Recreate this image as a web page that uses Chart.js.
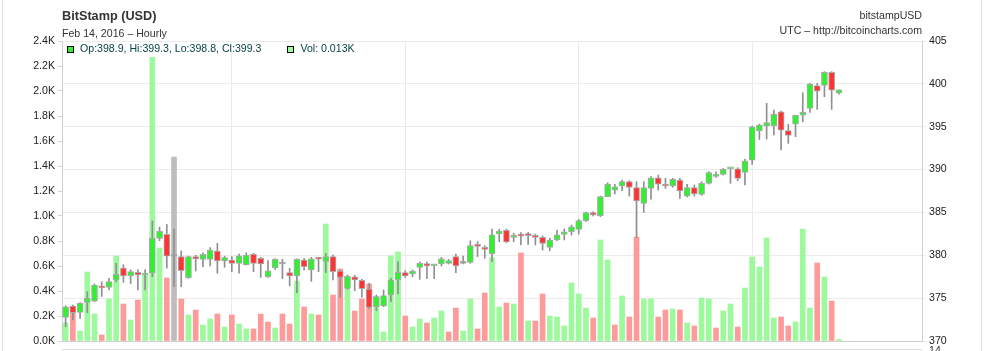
<!DOCTYPE html>
<html>
<head>
<meta charset="utf-8">
<script src="https://cdn.jsdelivr.net/npm/chart.js@4.4.1/dist/chart.umd.min.js"></script>
<style>
  body { margin: 0; background: #fff; }
  #wrap { position: relative; width: 984px; height: 351px; overflow: hidden; font-family: "Liberation Sans", Arial, sans-serif; }
  #wrap canvas { position: absolute; left: 0; top: 0; }
  .t { position: absolute; white-space: nowrap; color: #333; font-size: 10.6px; line-height: 10.6px; }
  .line { position: absolute; background: #ddd; }
  .sq { display: inline-block; width: 5px; height: 5px; border: 1px solid #000; vertical-align: -1px; margin-right: 6px; }
</style>
</head>
<body>
<div id="wrap">
  <canvas id="myChart" width="984" height="351"></canvas>
  <div class="line" style="left:2px;top:0;width:1px;height:351px"></div>
  <div class="line" style="left:981px;top:0;width:1px;height:351px"></div>
  <div class="line" style="left:62px;top:349px;width:860px;height:1px"></div>
  <div class="t" style="left:62px;top:10px;font-size:12.7px;line-height:12.7px;font-weight:bold">BitStamp (USD)</div>
  <div class="t" style="left:62px;top:28px">Feb 14, 2016 &ndash; Hourly</div>
  <div class="t" style="right:62px;top:10px">bitstampUSD</div>
  <div class="t" style="right:62px;top:25px">UTC &ndash; http://bitcoincharts.com</div>
  <div class="t" id="legend" style="left:67px;top:43px;color:#0a4444"></div>
  <div class="t" style="left:929px;top:345px">14</div>
</div>
<script>
// hourly candles, Feb 9 01:00 .. Feb 13 12:00 UTC
var opens = [372.76, 374.08, 373.34, 374.5, 374.66, 376.25, 376.26, 377.1, 378.5, 377.58,
  378.0, 377.7, 377.9, 381.98, 382.44, 379.9, 379.84, 377.39, 379.84, 379.53,
  379.53, 380.5, 379.33, 379.45, 379.06, 378.87, 380.11, 379.64, 377.5, 378.52,
  378.98, 377.97, 377.58, 379.45, 378.28, 379.6, 379.29, 379.84, 378.17, 376.14,
  377.5, 377.08, 376.07, 374.0, 374.08, 375.37, 377.12, 377.97, 377.82, 378.59,
  379.02, 378.78, 378.98, 379.06, 379.84, 379.06, 379.17, 381.24, 380.92, 380.15,
  382.48, 382.9, 382.09, 382.26, 382.52, 382.28, 382.09, 380.92, 381.78, 382.44,
  382.75, 383.02, 384.04, 384.97, 384.62, 386.84, 387.61, 388.08, 388.59, 387.89,
  386.06, 387.81, 389.05, 388.2, 388.08, 388.78, 386.91, 387.89, 387.11, 388.39,
  389.21, 389.44, 390.08, 390.1, 389.67, 391.11, 394.5, 395.08, 395.12, 396.75,
  394.54, 395.31, 396.36, 397.14, 399.79, 399.82, 401.34, 398.9];
var highs = [374.1, 374.2, 374.47, 375.75, 376.65, 376.9, 377.3, 379.06, 378.9, 378.3,
  378.3, 378.3, 384.0, 383.3, 383.6, 383.07, 380.5, 379.9, 380.0, 380.3,
  380.89, 381.4, 379.9, 379.84, 380.15, 380.3, 380.23, 379.76, 379.37, 379.6,
  379.53, 378.48, 379.6, 379.64, 379.76, 379.76, 380.23, 380.03, 378.28, 377.7,
  377.66, 377.2, 376.73, 375.37, 375.95, 377.31, 379.25, 378.2, 378.28, 379.22,
  379.22, 378.87, 379.76, 379.53, 380.15, 379.9, 381.7, 381.59, 381.12, 383.06,
  383.02, 383.06, 382.56, 382.64, 382.67, 382.48, 382.25, 381.98, 382.95, 383.06,
  383.53, 384.2, 385.05, 385.09, 386.91, 388.47, 388.27, 388.78, 388.7, 388.59,
  388.59, 389.17, 389.36, 388.97, 388.97, 388.97, 388.27, 388.2, 388.59, 389.75,
  389.75, 390.14, 390.14, 390.22, 391.19, 395.08, 395.31, 397.72, 396.95, 396.83,
  395.27, 396.36, 398.97, 400.06, 400.06, 401.42, 401.42, 399.3];
var lows = [371.67, 372.45, 372.64, 373.3, 374.58, 375.2, 375.95, 376.9, 376.84, 376.7,
  375.95, 375.95, 377.5, 381.7, 378.5, 376.34, 376.34, 377.3, 378.17, 378.67,
  378.75, 377.9, 378.6, 378.09, 377.9, 378.87, 378.09, 377.43, 377.43, 378.35,
  377.27, 376.42, 375.64, 378.28, 376.96, 378.09, 377.97, 377.12, 375.1, 376.03,
  375.87, 375.1, 373.81, 373.54, 374.0, 374.59, 375.48, 377.43, 377.5, 377.2,
  377.27, 377.27, 378.75, 378.98, 377.97, 378.98, 379.06, 379.84, 379.64, 379.25,
  381.58, 381.47, 381.58, 381.2, 381.27, 381.2, 380.61, 380.54, 381.7, 381.78,
  382.36, 382.48, 383.96, 384.58, 384.5, 386.84, 387.15, 387.53, 386.91, 382.09,
  385.01, 386.56, 387.61, 387.81, 387.93, 386.64, 386.8, 386.91, 386.99, 388.31,
  389.09, 389.36, 388.39, 388.7, 388.2, 390.6, 393.52, 393.56, 394.03, 392.28,
  393.06, 393.84, 395.58, 396.67, 397.02, 398.5, 397.02, 398.8];
var closes = [374.0, 373.3, 374.4, 374.98, 376.53, 376.2, 376.92, 377.77, 377.6, 378.09,
  377.7, 377.75, 381.98, 382.83, 379.9, 379.9, 378.2, 379.84, 379.57, 380.11,
  380.62, 379.33, 379.72, 379.06, 379.95, 380.03, 379.06, 378.98, 378.2, 379.53,
  378.98, 377.58, 379.53, 378.67, 379.6, 379.55, 379.84, 378.09, 377.43, 377.55,
  377.12, 376.1, 373.93, 375.17, 375.29, 377.12, 378.01, 377.58, 378.17, 379.06,
  378.75, 378.8, 379.6, 379.37, 378.75, 379.06, 381.12, 381.04, 380.69, 382.4,
  382.83, 381.55, 382.28, 382.24, 382.28, 382.09, 381.39, 381.78, 382.4, 382.75,
  383.33, 384.04, 384.97, 384.7, 386.84, 388.27, 388.0, 388.59, 387.92, 386.33,
  387.89, 389.05, 388.31, 388.08, 388.86, 387.5, 387.89, 387.15, 388.39, 389.64,
  389.36, 390.02, 390.1, 388.97, 391.03, 395.0, 395.2, 395.47, 396.44, 394.61,
  393.99, 396.32, 396.67, 399.94, 399.16, 401.34, 399.25, 399.3];
var volumes = [145, 230, 80, 552, 216, 48, 336, 680, 296, 168,
  328, 528, 2270, 744, 504, 1472, 336, 208, 248, 128,
  176, 216, 112, 208, 136, 96, 96, 216, 152, 104,
  216, 136, 480, 272, 216, 208, 936, 368, 576, 515,
  240, 336, 456, 355, 72, 680, 712, 200, 112, 176,
  144, 184, 240, 72, 264, 80, 336, 96, 384, 667,
  272, 304, 296, 704, 160, 160, 376, 200, 192, 120,
  464, 376, 264, 184, 808, 648, 128, 360, 192, 832,
  336, 336, 192, 248, 256, 248, 144, 120, 344, 336,
  104, 240, 296, 112, 424, 672, 592, 824, 184, 192,
  120, 152, 896, 264, 624, 512, 320, 13];

var volTicks = { min: 0, max: 2400, step: 200 };
var priceTicks = { min: 370, max: 405, step: 5 };
var slotCount = 119;

// one slot per hour, starting Feb 9 01:00 UTC
var labels = [];
for (var k = 0; k < slotCount; k++) {
    var d = new Date(Date.UTC(2016, 1, 9, 1 + k));
    var hh = ('0' + d.getUTCHours()).slice(-2);
    labels.push('Feb ' + d.getUTCDate() + ' ' + hh + ':00');
}

var font = { family: '"Liberation Sans", Arial, sans-serif', size: 10.6 };

var bodies = [], wicks = [], bodyColors = [], volColors = [];
for (var i = 0; i < opens.length; i++) {
    bodies.push([opens[i], closes[i]]);
    wicks.push([lows[i], highs[i]]);
    bodyColors.push(closes[i] > opens[i] ? '#33ee33' : (closes[i] < opens[i] ? '#ff3333' : '#999'));
    var prev = i > 0 ? closes[i - 1] : opens[i];
    volColors.push(closes[i] > prev ? '#9cf99c' : (closes[i] < prev ? '#fd9a9a' : '#bdbdbd'));
}

var last = opens.length - 1;
document.getElementById('legend').innerHTML =
    '<span class="sq" style="background:#33ee33"></span>Op:' + opens[last] + ', Hi:' + highs[last] +
    ', Lo:' + lows[last] + ', Cl:' + closes[last] +
    '<span class="sq" style="background:#9cf99c;margin-left:26px"></span>Vol: ' + (volumes[last] / 1000).toFixed(3) + 'K';

const ctx = document.getElementById('myChart');

new Chart(ctx, {
    type: 'bar',
    data: {
        labels: labels,
        datasets: [{
            label: 'Candle',
            data: bodies,
            yAxisID: 'price',
            backgroundColor: bodyColors,
            borderColor: '#aaa',
            borderWidth: 1,
            borderSkipped: false,
            barThickness: 6,
            minBarLength: 2,
            grouped: false,
            order: 1
        }, {
            label: 'Range',
            data: wicks,
            yAxisID: 'price',
            backgroundColor: '#8f8f8f',
            barThickness: 1,
            grouped: false,
            order: 2
        }, {
            label: 'Volume',
            data: volumes,
            yAxisID: 'vol',
            backgroundColor: volColors,
            barThickness: 5,
            grouped: false,
            order: 3
        }]
    },
    options: {
        responsive: false,
        animation: false,
        devicePixelRatio: 1,
        events: [],
        layout: {
            padding: { left: 0, right: 0, top: 41, bottom: 0 }
        },
        plugins: {
            legend: { display: false },
            title: { display: false },
            tooltip: { enabled: false }
        },
        scales: {
            x: {
                offset: true,
                ticks: { display: false },
                grid: {
                    offset: false,
                    drawTicks: false,
                    color: function (c) {
                        return (labels[c.index] && labels[c.index].slice(-5) === '00:00') ? '#ebebeb' : 'rgba(0,0,0,0)';
                    }
                },
                border: { color: '#cfcfcf' },
                afterFit: function (s) { s.height = 10; }
            },
            vol: {
                position: 'left',
                min: volTicks.min,
                max: volTicks.max,
                ticks: {
                    stepSize: volTicks.step,
                    color: '#222',
                    font: font,
                    padding: 3,
                    callback: function (v) { return (v / 1000).toFixed(1) + 'K'; }
                },
                grid: { drawOnChartArea: false, tickLength: 4, color: '#d5d5d5' },
                border: { color: '#cfcfcf' },
                afterFit: function (s) { s.width = 62; }
            },
            price: {
                position: 'right',
                min: priceTicks.min,
                max: priceTicks.max,
                ticks: {
                    stepSize: priceTicks.step,
                    color: '#222',
                    font: font,
                    padding: 3
                },
                grid: { color: '#ebebeb', tickLength: 4 },
                border: { color: '#cfcfcf' },
                afterFit: function (s) { s.width = 62; }
            }
        }
    }
});
</script>
</body>
</html>
